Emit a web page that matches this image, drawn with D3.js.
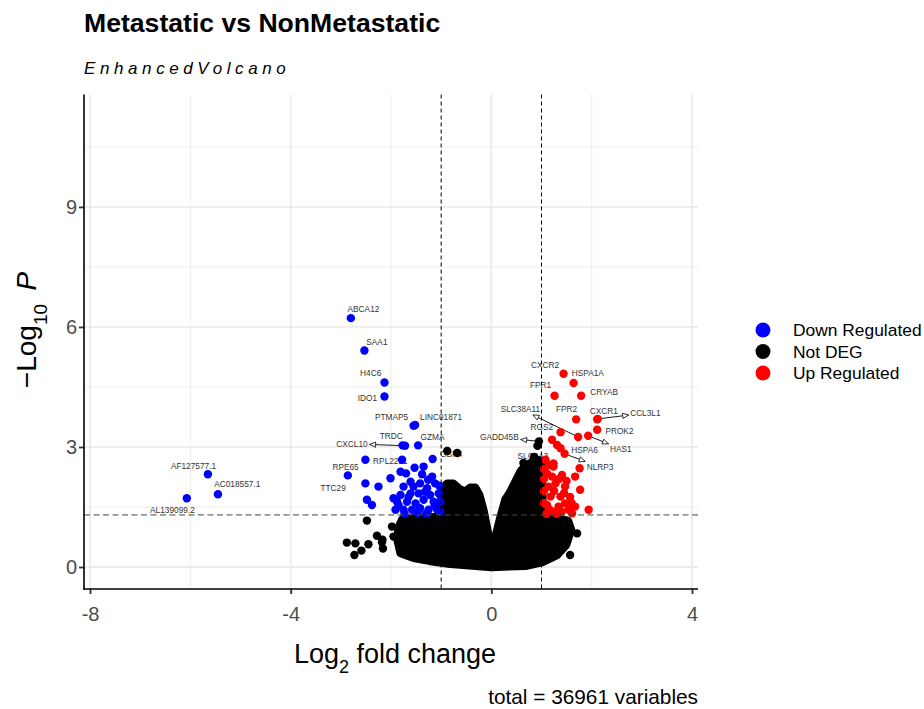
<!DOCTYPE html>
<html>
<head>
<meta charset="utf-8">
<script src="https://cdn.jsdelivr.net/npm/d3@7"></script>
<style>
  body { margin: 0; background: #fff; }
  svg { font-family: "Liberation Sans", Arial, sans-serif; }
</style>
</head>
<body>
<svg id="chart" width="924" height="709"></svg>
<script>
// values: [gene, log2FC, -log10 P]
var downLabelled = [
  ["ABCA12", -2.80, 6.22], ["SAA1", -2.53, 5.41], ["H4C6", -2.13, 4.61],
  ["IDO1", -2.13, 4.26], ["PTMAP5", -1.55, 3.53], ["LINC01871", -1.52, 3.55],
  ["TRDC", -1.77, 3.04], ["CXCL10", -1.72, 3.03], ["GZMA", -1.46, 3.04],
  ["RPL22L1", -2.51, 2.68], ["RPE65", -2.86, 2.29], ["TTC29", -2.51, 2.09],
  ["AF127577.1", -5.65, 2.32], ["AC018557.1", -5.45, 1.82], ["AL139099.2", -6.07, 1.72]
];
var upLabelled = [
  ["CXCR2", 1.44, 4.83], ["HSPA1A", 1.64, 4.60], ["FPR1", 1.26, 4.28],
  ["CRYAB", 1.79, 4.28], ["FPR2", 1.69, 3.69], ["CXCR1", 2.11, 3.69],
  ["CCL3L1", 2.12, 3.70], ["PROK2", 2.11, 3.43], ["RGS2", 1.38, 3.37],
  ["SLC38A11", 1.73, 3.25], ["HAS1", 1.93, 3.28], ["HSPA6", 1.38, 2.97],
  ["NLRP3", 1.46, 2.83]
];
var notDegLabelled = [
  ["GADD45B", 0.95, 3.14], ["GBP4", -0.88, 2.90], ["SLC2A3", 0.85, 2.75]
];

// unlabelled significant genes [log2FC, -log10 P]
var downOther = [
  [-1.78,2.68],[-1.17,2.70],[-1.35,2.51],[-1.81,2.38],[-1.70,2.34],[-1.38,2.32],
  [-2.01,2.22],[-1.18,2.26],[-1.61,2.13],[-1.42,2.09],[-1.12,2.09],[-1.75,2.01],
  [-1.55,2.01],[-1.28,1.97],[-1.81,1.80],[-1.61,1.84],[-1.45,1.84],[-1.22,1.80],
  [-1.05,1.84],[-1.88,1.63],[-1.68,1.63],[-1.51,1.59],[-1.35,1.68],[-1.15,1.63],
  [-1.02,1.63],[-1.91,1.43],[-1.75,1.43],[-1.58,1.43],[-1.42,1.47],[-1.25,1.43],
  [-1.08,1.43],[-1.95,1.72],[-1.04,2.03],[-2.25,2.01],[-2.48,1.68],[-2.38,1.55],
  [-1.26,2.18],[-1.53,2.48],[-1.32,1.88],[-1.65,1.75],[-1.13,1.53],[-1.85,1.55],
  [-1.47,1.35],[-1.30,1.33],[-1.02,1.38],[-1.73,1.33]
];
var upOther = [
  [1.21,3.18],[1.31,3.05],[1.76,2.47],[1.67,2.26],[1.41,2.30],[1.24,2.51],
  [1.21,2.26],[1.28,2.09],[1.47,2.01],[1.77,1.93],[1.14,2.01],[1.38,1.76],
  [1.18,1.76],[1.67,1.51],[1.94,1.43],[1.54,1.43],[1.34,1.51],[1.11,1.55],
  [1.24,1.38],[1.47,1.59],[1.61,1.34],[1.08,2.68],[1.11,2.34],[1.24,2.59],
  [1.10,1.33],[1.57,1.75],[1.30,1.33],[1.05,2.20],[1.05,1.90],[1.05,1.60],
  [1.35,2.20],[1.50,2.15],[1.25,1.90],[1.45,1.85],[1.60,1.60],[1.15,1.45],
  [1.40,1.38],[1.05,2.45],[1.15,2.55]
];
// scattered non-significant genes away from the main mass
var notDegOther = [
  [-0.68,2.85],[0.92,3.03],[0.64,2.60],
  [-2.48,1.16],[-2.88,0.61],[-2.71,0.59],[-2.73,0.30],[-2.59,0.41],[-2.45,0.57],
  [-2.28,0.78],[-2.18,0.62],[-2.16,0.46],[-1.98,1.01],[-1.95,0.76],[-2.17,0.68],
  [1.71,0.84],[1.57,0.30],[1.24,1.00],[1.23,0.43],[1.38,0.68],[1.44,1.10]
];
// outline of the dense mass of ~36900 non-significant genes (point centres)
var notDegEnvelope = [
  [-1.81,0.35],[-1.87,0.68],[-1.85,0.98],[-1.77,1.20],[-1.51,1.22],[-1.06,1.25],
  [-0.96,1.98],[-0.88,2.08],[-0.76,2.08],[-0.64,1.95],[-0.52,1.88],[-0.42,1.98],
  [-0.32,1.98],[-0.24,1.80],[-0.16,1.43],[-0.08,0.93],[0.00,0.38],[0.08,0.73],
  [0.18,1.23],[0.28,1.68],[0.38,1.88],[0.48,2.13],[0.58,2.38],[0.68,2.53],
  [0.79,2.60],[0.91,2.68],[0.99,2.65],[1.03,1.23],[1.33,1.20],[1.53,1.15],
  [1.59,0.93],[1.49,0.55],[1.31,0.30],[1.03,0.13],[0.68,0.03],[0.00,0.00],
  [-0.82,0.08],[-1.22,0.15],[-1.55,0.23]
];

var xTicks = [-8, -4, 0, 4];
var yTicks = [0, 3, 6, 9];
var legendLabels = ["Down Regulated", "Not DEG", "Up Regulated"];
var legendColors = ["#0000ff", "#000000", "#ff0000"];
var fcCutoff = 1, pCutoff = 0.05;

// label placement (pixel offset of label centre from its point)
var labelNudge = {
  ABCA12: [12.6, -9.3], SAA1: [12.5, -9], H4C6: [-13.8, -9.4], IDO1: [-17, 1.6],
  PTMAP5: [-22, -9], LINC01871: [26, -8.3], TRDC: [-11.3, -9.6], CXCL10: [-53, -2],
  GZMA: [14.5, -8.6], RPL22L1: [25, 1.7], RPE65: [-2.3, -8.6], TTC29: [-32.3, 4.4],
  "AF127577.1": [-14.4, -8.6], "AC018557.1": [19.3, -10], "AL139099.2": [-14.4, 11.7],
  CXCR2: [-18.5, -9], HSPA1A: [14.2, -9.7], FPR1: [-14, -10.7], CRYAB: [23, -3.4],
  FPR2: [-9.5, -10.3], CXCR1: [6.6, -8.6], CCL3L1: [47.7, -6], PROK2: [22.3, 1],
  RGS2: [-18.8, -5], SLC38A11: [-57.7, -28], HAS1: [32.7, 13], HSPA6: [24, 1.7],
  NLRP3: [35.5, 13.3], GADD45B: [-39.6, -4.1], GBP4: [4, 3], SLC2A3: [-1, -1]
};
var arrowGenes = ["CXCL10", "SLC38A11", "CCL3L1", "HAS1", "NLRP3", "GADD45B"];

var svg = d3.select("#chart");
var panelLeft = 84, panelRight = 698, panelTop = 94.5, panelBottom = 589;
var r = 4.2;

var x = d3.scaleLinear().domain([-8.12, 4.12]).range([panelLeft, panelRight]);
var y = d3.scaleLinear().domain([-0.55, 11.81]).range([panelBottom, panelTop]);

// grid
var grid = svg.append("g");
function vline(v, w) {
  grid.append("line").attr("x1", x(v)).attr("x2", x(v)).attr("y1", panelTop).attr("y2", panelBottom)
    .attr("stroke", "#ebebeb").attr("stroke-width", w);
}
function hline(v, w) {
  grid.append("line").attr("x1", panelLeft).attr("x2", panelRight).attr("y1", y(v)).attr("y2", y(v))
    .attr("stroke", "#ebebeb").attr("stroke-width", w);
}
[-6, -2, 2].forEach(function(v) { vline(v, 0.9); });
[1.5, 4.5, 7.5, 10.5].forEach(function(v) { hline(v, 0.9); });
xTicks.forEach(function(v) { vline(v, 1.8); });
yTicks.forEach(function(v) { hline(v, 1.8); });

// labels and connectors go under the points, as in the reference
var labelLayer = svg.append("g");
var allLabelled = downLabelled.concat(upLabelled, notDegLabelled);
allLabelled.forEach(function(d) {
  var px = x(d[1]), py = y(d[2]);
  var n = labelNudge[d[0]];
  var t = labelLayer.append("text")
    .attr("x", px + n[0]).attr("y", py + n[1])
    .attr("text-anchor", "middle").attr("dominant-baseline", "central")
    .attr("font-size", 8.3).attr("fill", "#333")
    .text(d[0]);
  if (arrowGenes.indexOf(d[0]) >= 0) {
    var b = t.node().getBBox();
    var cx = b.x + b.width / 2, cy = b.y + b.height / 2;
    var dx = px - cx, dy = py - cy;
    var s = Math.min(Math.abs((b.width / 2 + 1.5) / dx), Math.abs((b.height / 2 + 1) / dy));
    var ex = cx + dx * s, ey = cy + dy * s;
    var len = Math.hypot(px - ex, py - ey);
    var ux = (ex - px) / len, uy = (ey - py) / len;
    labelLayer.append("line")
      .attr("x1", px + ux * 2).attr("y1", py + uy * 2)
      .attr("x2", ex).attr("y2", ey)
      .attr("stroke", "#000").attr("stroke-width", 0.9);
    // open arrowhead at the label end
    var ang = Math.atan2(uy, ux), ah = 6, aw = 2.6;
    var bx = ex - ux * ah, by = ey - uy * ah;
    labelLayer.append("path")
      .attr("d", "M" + ex + "," + ey +
        "L" + (bx - Math.sin(ang) * aw) + "," + (by + Math.cos(ang) * aw) +
        "L" + (bx + Math.sin(ang) * aw) + "," + (by - Math.cos(ang) * aw) + "Z")
      .attr("fill", "#fff").attr("stroke", "#000").attr("stroke-width", 0.8);
  }
});

// points
var pts = svg.append("g");
var line = d3.line().x(function(d) { return x(d[0]); }).y(function(d) { return y(d[1]); });
pts.append("path")
  .attr("d", line(notDegEnvelope) + "Z")
  .attr("fill", "#000").attr("stroke", "#000")
  .attr("stroke-width", r * 2).attr("stroke-linejoin", "round");

function dots(data, color, fx, fy) {
  pts.selectAll(null).data(data).enter().append("circle")
    .attr("cx", function(d) { return x(fx(d)); })
    .attr("cy", function(d) { return y(fy(d)); })
    .attr("r", r).attr("fill", color);
}
var f0 = function(d) { return d[0]; }, f1 = function(d) { return d[1]; }, f2 = function(d) { return d[2]; };
dots(notDegOther, "#000", f0, f1);
dots(notDegLabelled, "#000", f1, f2);
dots(downOther, "#0000ff", f0, f1);
dots(downLabelled, "#0000ff", f1, f2);
dots(upOther, "#ff0000", f0, f1);
dots(upLabelled, "#ff0000", f1, f2);

// cutoff lines
[-fcCutoff, fcCutoff].forEach(function(v) {
  svg.append("line").attr("x1", x(v)).attr("x2", x(v)).attr("y1", panelTop).attr("y2", panelBottom)
    .attr("stroke", "#000").attr("stroke-width", 1).attr("stroke-dasharray", "4,3");
});
svg.append("line").attr("x1", panelLeft).attr("x2", panelRight)
  .attr("y1", y(-Math.log10(pCutoff))).attr("y2", y(-Math.log10(pCutoff)))
  .attr("stroke", "#444").attr("stroke-width", 1).attr("stroke-dasharray", "6,3.5");

// axes
var xAxis = svg.append("g").attr("transform", "translate(0," + panelBottom + ")")
  .call(d3.axisBottom(x).tickValues(xTicks).tickSize(5).tickPadding(13).tickFormat(d3.format("d")));
var yAxis = svg.append("g").attr("transform", "translate(" + panelLeft + ",0)")
  .call(d3.axisLeft(y).tickValues(yTicks).tickSize(5).tickPadding(2).tickFormat(d3.format("d")));
[xAxis, yAxis].forEach(function(a) {
  a.select(".domain").remove();
  a.selectAll(".tick line").attr("stroke", "#333").attr("stroke-width", 1.8);
  a.selectAll(".tick text").attr("font-size", 20).attr("fill", "#4d4d4d")
    .attr("font-family", "Liberation Sans, Arial, sans-serif");
});
xAxis.selectAll(".tick text").text(function(d) { return d < 0 ? "-" + Math.abs(d) : d; });
svg.append("line").attr("x1", panelLeft).attr("x2", panelLeft).attr("y1", panelTop).attr("y2", panelBottom + 0.8)
  .attr("stroke", "#000").attr("stroke-width", 1.6);
svg.append("line").attr("x1", panelLeft - 0.8).attr("x2", panelRight).attr("y1", panelBottom).attr("y2", panelBottom)
  .attr("stroke", "#000").attr("stroke-width", 1.6);

// axis titles
var xt = svg.append("text").attr("x", 395).attr("y", 663).attr("text-anchor", "middle")
  .attr("font-size", 27).attr("fill", "#000");
xt.append("tspan").text("Log");
xt.append("tspan").attr("baseline-shift", "sub").attr("font-size", 18).text("2");
xt.append("tspan").text(" fold change");

var yt = svg.append("text").attr("transform", "translate(36,330) rotate(-90)")
  .attr("text-anchor", "middle").attr("font-size", 28).attr("fill", "#000");
yt.append("tspan").text("\u2212Log");
yt.append("tspan").attr("baseline-shift", "sub").attr("font-size", 19).text("10");
yt.append("tspan").attr("font-style", "italic").text("\u2009 P");

// titles
svg.append("text").attr("x", 84).attr("y", 32).attr("font-size", 26.6)
  .attr("font-weight", "bold").attr("fill", "#000").text("Metastatic vs NonMetastatic");
svg.append("text").attr("x", 84).attr("y", 74).attr("font-size", 17)
  .attr("font-style", "italic").attr("letter-spacing", 4.6).attr("fill", "#000")
  .text("EnhancedVolcano");
svg.append("text").attr("x", 698).attr("y", 704).attr("text-anchor", "end")
  .attr("font-size", 20.8).attr("fill", "#000").text("total = 36961 variables");

// legend
var lg = svg.append("g");
legendLabels.forEach(function(l, i) {
  lg.append("circle").attr("cx", 763).attr("cy", 330 + i * 21.5).attr("r", 7.5)
    .attr("fill", legendColors[i]);
  lg.append("text").attr("x", 793).attr("y", 330 + i * 21.5).attr("dy", "0.35em")
    .attr("font-size", 17.4).attr("fill", "#000").text(l);
});
</script>
</body>
</html>
